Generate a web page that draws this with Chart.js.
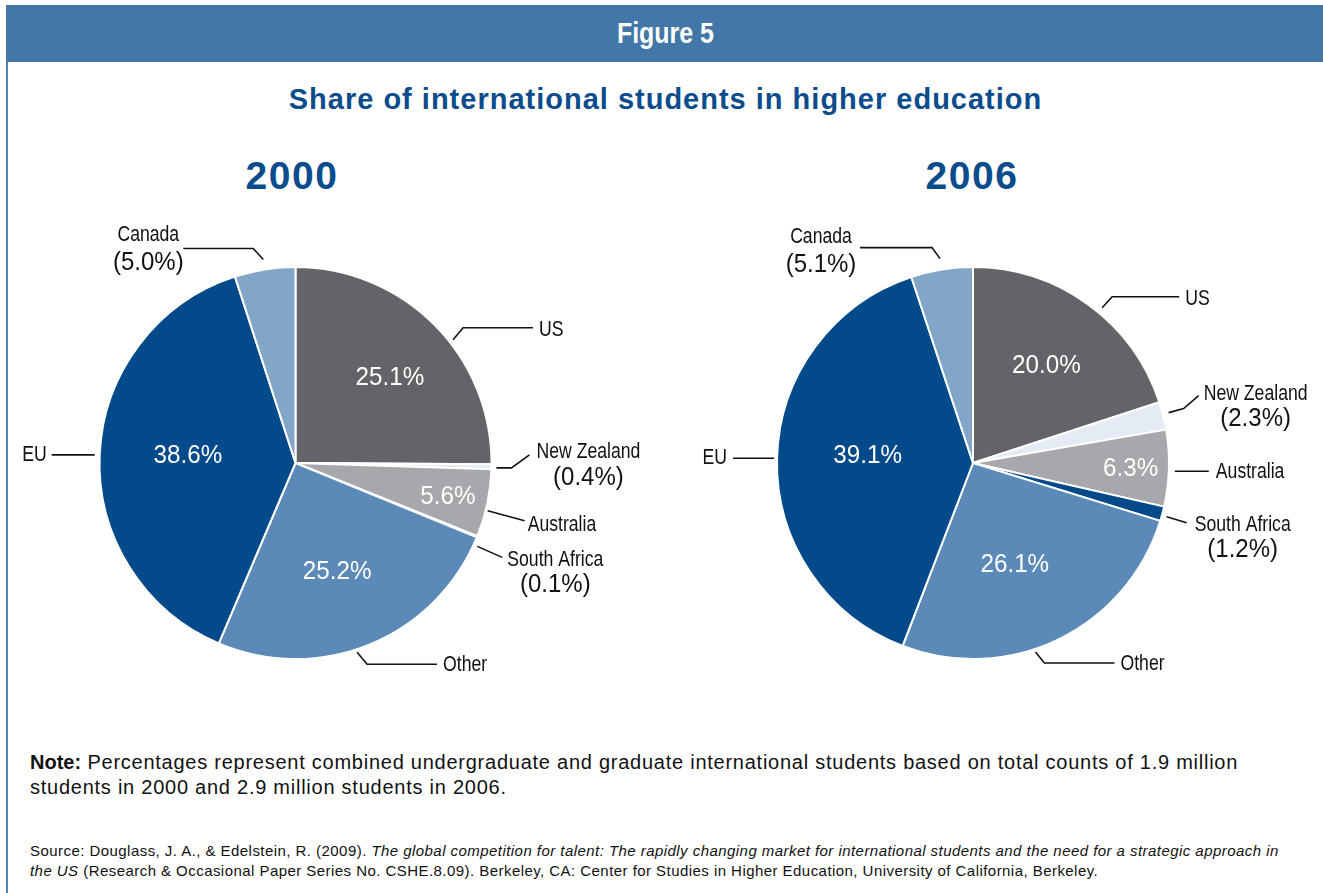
<!DOCTYPE html>
<html><head><meta charset="utf-8">
<script src="https://cdn.jsdelivr.net/npm/chart.js@4.4.1/dist/chart.umd.min.js"></script>
<style>
html,body{margin:0;padding:0;}
body{width:1323px;height:893px;position:relative;background:#fff;overflow:hidden;font-family:"Liberation Sans",Arial,Helvetica,sans-serif;}
#hdr{position:absolute;left:6px;top:5px;width:1317px;height:57px;background:#4277a7;}
#hdr div{position:absolute;left:0;width:1319px;top:10px;height:36px;line-height:36px;text-align:center;color:#fff;font-weight:bold;font-size:29px;}
#hdr span{display:inline-block;transform:scaleX(0.86);}
#lb{position:absolute;left:6px;top:62px;width:2px;height:831px;background:#5283b3;}
#title{position:absolute;left:8px;width:1315px;top:82px;height:34px;line-height:34px;text-align:center;color:#0b4c8c;font-weight:bold;font-size:29px;letter-spacing:1px;}
.year{position:absolute;width:240px;top:154px;height:44px;line-height:44px;text-align:center;color:#0b4c8c;font-weight:bold;font-size:39px;letter-spacing:1.5px;}
canvas{position:absolute;top:190px;}
#note{position:absolute;left:30px;top:750px;width:1290px;font-size:20px;line-height:25px;color:#111;letter-spacing:0.75px;white-space:nowrap;}
#note b{letter-spacing:0;}
#src{position:absolute;left:30px;top:841px;width:1290px;font-size:15px;line-height:20px;color:#111;letter-spacing:0.45px;white-space:nowrap;}
</style></head>
<body>
<div id="hdr"><div><span>Figure 5</span></div></div>
<div id="lb"></div>
<div id="title">Share of international students in higher education</div>
<div class="year" id="y0" style="left:172px"></div>
<div class="year" id="y1" style="left:852px"></div>
<canvas id="c0" width="660" height="560" style="left:0px"></canvas>
<canvas id="c1" width="663" height="560" style="left:660px"></canvas>
<div id="note"><b>Note:</b> Percentages represent combined undergraduate and graduate international students based on total counts of 1.9 million<br>students in 2000 and 2.9 million students in 2006.</div>
<div id="src">Source: Douglass, J. A., &amp; Edelstein, R. (2009). <i>The global competition for talent: The rapidly changing market for international students and the need for a strategic approach in<br>the US</i> (Research &amp; Occasional Paper Series No. CSHE.8.09). Berkeley, CA: Center for Studies in Higher Education, University of California, Berkeley.</div>
<script>
// ---- data ----
const categories = ['US', 'New Zealand', 'Australia', 'South Africa', 'Other', 'EU', 'Canada'];
const years = ['2000', '2006'];
const values2000 = [25.1, 0.4, 5.6, 0.1, 25.2, 38.6, 5.0];
const values2006 = [20.0, 2.3, 6.3, 1.2, 26.1, 39.1, 5.1];
const sliceColors = ['#636467', '#e4ebf4', '#a7a8ab', '#034a8b', '#5b8ab8', '#034a8b', '#82a6c8'];

// ---- label layout (styling / placement, not data) ----
const layouts = [
  {
    inner: {0: {k: 0.648, da: 2.8}, 2: {k: 0.797, da: 0.7}, 4: {k: 0.597, da: 1.5}, 5: {k: 0.55, da: 1.2}},
    leaders: {
      0: {da: 6.8, gap: 4, pts: [[10, -12], [70, 0]], tx: 6, ty: 2, align: 'left'},
      1: {da: 0.3, gap: 5, pts: [[15, 0], [18, -13]], two: true, cx: 59, y1: -3, y2: 23},
      2: {da: 2.1, gap: 2, pts: [[37, 10]], tx: 3, ty: 4, align: 'left'},
      3: {da: 2.5, gap: 4, pts: [[25, 11]], two: true, cx: 53, y1: 3, y2: 28},
      4: {da: 4.3, gap: 3, pts: [[10, 12], [70, 0]], tx: 6, ty: 1, align: 'left'},
      5: {da: -0.2, gap: 5, pts: [[-43, 0]], tx: -5, ty: 0, align: 'right'},
      6: {da: 0, gap: 10, pts: [[-10, -11], [-70, 0]], two: true, cx: -35, y1: -13, y2: 15}
    }
  },
  {
    inner: {0: {k: 0.619, da: 1.3}, 2: {k: 0.805, da: 0.7}, 4: {k: 0.56, da: 3.5}, 5: {k: 0.539, da: 2.4}},
    leaders: {
      0: {da: 3.8, gap: 6, pts: [[10, -11], [67, 0]], tx: 6, ty: 2, align: 'left'},
      1: {da: -0.5, gap: 6, pts: [[15, -4], [15, -13]], two: true, cx: 57, y1: -2, y2: 23},
      2: {da: 0.8, gap: 6, pts: [[34, 0]], tx: 7, ty: 1, align: 'left'},
      3: {da: 0.5, gap: 5, pts: [[20, 6]], two: true, cx: 56, y1: 2, y2: 27},
      4: {da: 7.6, gap: 3, pts: [[9, 11], [70, 0]], tx: 6, ty: 1, align: 'left'},
      5: {da: 0, gap: 3, pts: [[-41, 0]], tx: -6, ty: 0, align: 'right'},
      6: {da: 0, gap: 11, pts: [[-8, -11], [-72, 0]], two: true, cx: -39, y1: -11, y2: 17}
    }
  }
];

const FONT = '"Liberation Sans",Arial,sans-serif';
const NAME_FONT = '21.5px ' + FONT, NAME_SX = 0.82;
const PCT_FONT = '25px ' + FONT, PCT_SX = 0.96;
const IN_FONT = '25.5px ' + FONT, IN_SX = 0.95;
const fmt = v => v.toFixed(1);
const D2R = Math.PI / 180;

function drawText(ctx, text, x, y, align, font, sx) {
  ctx.save();
  ctx.translate(x, y);
  ctx.scale(sx, 1);
  ctx.font = font;
  ctx.textAlign = align;
  ctx.textBaseline = 'middle';
  ctx.fillText(text, 0, 0);
  ctx.restore();
}

const labelPlugin = {
  id: 'sliceLabels',
  afterDatasetsDraw(chart, args, opts) {
    const ctx = chart.ctx;
    const lay = opts.layout;
    const ds = chart.data.datasets[0];
    const meta = chart.getDatasetMeta(0);
    ctx.save();
    meta.data.forEach((arc, i) => {
      const p = arc.getProps(['x', 'y', 'startAngle', 'endAngle', 'outerRadius'], true);
      const mid = (p.startAngle + p.endAngle) / 2;
      const val = ds.data[i];
      const inn = lay.inner[i];
      if (inn) {
        const a = mid + inn.da * D2R, r = p.outerRadius * inn.k;
        ctx.fillStyle = '#ffffff';
        drawText(ctx, fmt(val) + '%', p.x + Math.cos(a) * r, p.y + Math.sin(a) * r, 'center', IN_FONT, IN_SX);
      }
      const L = lay.leaders[i];
      if (L) {
        const a = mid + L.da * D2R, r = p.outerRadius + L.gap;
        let px = p.x + Math.cos(a) * r, py = p.y + Math.sin(a) * r;
        ctx.strokeStyle = '#111';
        ctx.lineWidth = 1.6;
        ctx.beginPath();
        ctx.moveTo(px, py);
        L.pts.forEach(([dx, dy]) => { px += dx; py += dy; ctx.lineTo(px, py); });
        ctx.stroke();
        ctx.fillStyle = '#111';
        if (L.two) {
          drawText(ctx, chart.data.labels[i], px + L.cx, py + L.y1, 'center', NAME_FONT, NAME_SX);
          drawText(ctx, '(' + fmt(val) + '%)', px + L.cx, py + L.y2, 'center', PCT_FONT, PCT_SX);
        } else {
          drawText(ctx, chart.data.labels[i], px + L.tx, py + L.ty, L.align, NAME_FONT, NAME_SX);
        }
      }
    });
    ctx.restore();
  }
};

function makePie(canvasId, values, layout, padRight) {
  return new Chart(document.getElementById(canvasId), {
    type: 'pie',
    data: {
      labels: categories,
      datasets: [{
        data: values,
        backgroundColor: sliceColors,
        borderColor: '#ffffff',
        borderWidth: 2,
        radius: 196
      }]
    },
    options: {
      responsive: false,
      animation: false,
      devicePixelRatio: 1,
      layout: {padding: {left: 0, top: 0, right: padRight, bottom: 14}},
      plugins: {
        legend: {display: false},
        tooltip: {enabled: false},
        sliceLabels: {layout: layout}
      }
    },
    plugins: [labelPlugin]
  });
}

document.getElementById('y0').textContent = years[0];
document.getElementById('y1').textContent = years[1];
makePie('c0', values2000, layouts[0], 69);
makePie('c1', values2006, layouts[1], 37);
</script>
</body></html>
